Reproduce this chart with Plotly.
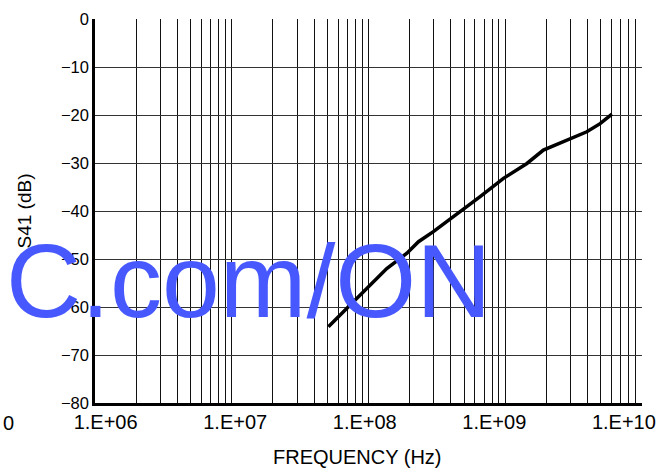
import plotly.graph_objects as go

# data
freq_hz = [5.09e7, 6.55e7, 9.7e7, 1.36e8, 1.91e8, 2.32e8, 2.98e8, 4.18e8,
           6.55e8, 9.7e8, 1.44e9, 1.9e9, 2.98e9, 3.95e9, 4.94e9, 6.03e9]
s41_db = [-64.1, -61.0, -56.1, -52.0, -48.8, -46.4, -44.3, -41.2,
          -37.0, -33.2, -30.1, -27.3, -24.9, -23.5, -21.8, -19.8]

decades = [1e6, 1e7, 1e8, 1e9, 1e10]
decade_labels = ["1.E+06", "1.E+07", "1.E+08", "1.E+09", "1.E+10"]
y_ticks = [-80, -70, -60, -50, -40, -30, -20, -10, 0]

grid_vals = [m * d for d in decades[:-1] for m in range(1, 10)] + [decades[-1]]

W, H = 672, 475
L, R, T, B = 95, 30, 19, 72
pw, ph = W - L - R, H - T - B

def px(xp):
    return (xp - L) / pw

def py(yp):
    return (H - B - yp) / ph

FONT = "Liberation Sans, Arial, sans-serif"

fig = go.Figure()
fig.add_trace(go.Scatter(x=freq_hz, y=s41_db, mode="lines",
                         line=dict(color="black", width=3.5),
                         showlegend=False, hoverinfo="skip"))
# invisible copy so that the label axis (x2) is rendered
fig.add_trace(go.Scatter(x=freq_hz, y=s41_db, mode="lines", xaxis="x2",
                         line=dict(color="rgba(0,0,0,0)", width=0), opacity=0,
                         showlegend=False, hoverinfo="skip"))

fig.update_layout(
    width=W, height=H,
    margin=dict(l=L, r=R, t=T, b=B),
    paper_bgcolor="white", plot_bgcolor="white",
    font=dict(family=FONT, color="black"),
    showlegend=False,
    xaxis=dict(type="log", range=[6, 10], tickvals=grid_vals,
               showticklabels=False, ticks="", automargin=False,
               showgrid=True, gridcolor="#111111", gridwidth=1.1,
               showline=True, linecolor="black", linewidth=2.6,
               zeroline=False),
    xaxis2=dict(type="log", range=[5.918, 10.1398], overlaying="x", anchor="y",
                side="bottom", tickvals=decades, ticktext=decade_labels,
                tickfont=dict(size=20), ticks="", showgrid=False, automargin=False,
                ticklabelstandoff=5,
                showline=False, zeroline=False),
    yaxis=dict(range=[-80, 0], tickvals=y_ticks, ticks="", automargin=False,
               tickfont=dict(size=16.5),
               showgrid=True, gridcolor="#333333", gridwidth=1.3,
               showline=True, linecolor="black", linewidth=2.6,
               zeroline=False,
               title=dict(text="S41 (dB)", font=dict(size=19), standoff=25)),
)

# x-axis title (placed slightly left of centre, as in the reference)
fig.add_annotation(text="FREQUENCY (Hz)", xref="paper", yref="paper",
                   x=px(357), y=py(457), showarrow=False,
                   xanchor="center", yanchor="middle",
                   font=dict(size=20, family=FONT, color="black"))

fig.add_annotation(text="0", xref="paper", yref="paper", x=px(8.3), y=py(422.5),
                   showarrow=False, xanchor="center", yanchor="middle",
                   font=dict(size=20, family=FONT, color="black"))

fig.add_annotation(text="C.com/ON", xref="paper", yref="paper",
                   x=px(4), y=py(281), showarrow=False,
                   xanchor="left", yanchor="middle",
                   font=dict(size=104, family=FONT, color="#4758FF"))

fig.write_html("out.html", config={"displayModeBar": False},
               post_script="document.body.style.margin='0';document.body.style.padding='0';")
